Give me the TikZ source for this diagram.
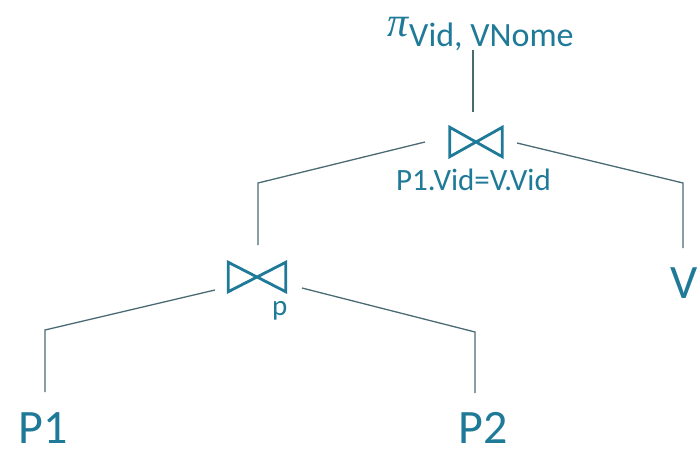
\documentclass[tikz,border=0pt]{standalone}
\usepackage{fontspec}
\setmainfont{Carlito}
\newfontfamily\pifont{Liberation Serif}
\begin{document}
\begin{tikzpicture}[x=1pt,y=-1pt,
  txt/.style={text=textc, inner sep=0pt, anchor=base},
  conn/.style={draw=linec, line width=1.3pt},
  bowtie/.style={draw=textc, line width=2.8pt, line join=miter}]
\definecolor{textc}{HTML}{1F7A98}
\definecolor{linec}{HTML}{4A6A74}
\useasboundingbox (0,0) rectangle (700,454);
% leaf relations
\node[txt, font=\fontsize{48}{48}\selectfont] (P1) at (43,443) {P1};
\node[txt, font=\fontsize{48}{48}\selectfont] (P2) at (483,443) {P2};
\node[txt, font=\fontsize{48}{48}\selectfont] (V) at (684,298) {V};
% projection
\node[txt, anchor=base west] (proj) at (387,37) {{\pifont\itshape\fontsize{42}{42}\selectfont π}\kern1pt\raisebox{-10pt}{\fontsize{34}{34}\selectfont Vid, VNome}};
% join nodes
\node[inner sep=0pt, minimum width=52pt, minimum height=29pt] (j1) at (476,142) {};
\node[inner sep=0pt, minimum width=57pt, minimum height=29pt] (j2) at (257,277) {};
\draw[bowtie] (j1.north west) -- (j1.south west) -- (j1.center) -- cycle
              (j1.north east) -- (j1.south east) -- (j1.center) -- cycle;
\draw[bowtie] (j2.north west) -- (j2.south west) -- (j2.center) -- cycle
              (j2.north east) -- (j2.south east) -- (j2.center) -- cycle;
\node[txt, anchor=base west, font=\fontsize{31}{31}\selectfont] (c1) at (396,190) {P1.Vid=V.Vid};
\node[txt, anchor=base west, font=\fontsize{29}{29}\selectfont] (c2) at (272,315) {p};
% connector end points
\coordinate (a1) at (473,50);  \coordinate (a2) at (473,112);
\coordinate (b1) at (425,142); \coordinate (b2) at (258,183); \coordinate (b3) at (258,245);
\coordinate (d1) at (517,143); \coordinate (d2) at (683,183); \coordinate (d3) at (683,248);
\coordinate (e1) at (215,290); \coordinate (e2) at (45,330);  \coordinate (e3) at (45,392);
\coordinate (f1) at (302,288); \coordinate (f2) at (475,332); \coordinate (f3) at (475,393);
\draw[conn] (a1) -- (a2);
\draw[conn] (b1) -- (b2) -- (b3);
\draw[conn] (d1) -- (d2) -- (d3);
\draw[conn] (e1) -- (e2) -- (e3);
\draw[conn] (f1) -- (f2) -- (f3);
\end{tikzpicture}
\end{document}
